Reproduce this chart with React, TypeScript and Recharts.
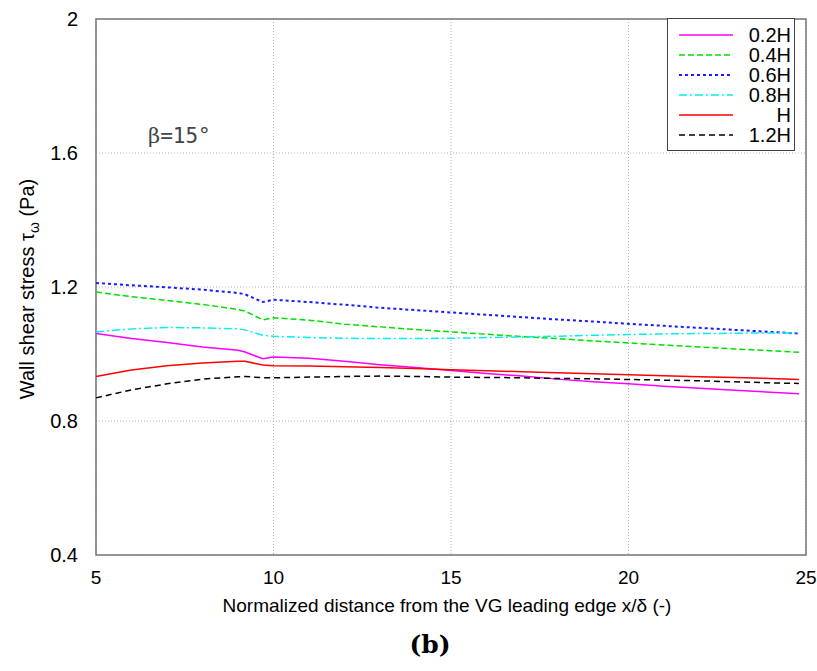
import { CartesianGrid, Line, LineChart, ReferenceArea, XAxis, YAxis } from "recharts";

const X_POS = [5, 6, 7, 8, 9, 9.2, 9.7, 10, 11, 12, 13, 14, 15, 16, 17, 18, 19, 20, 21, 22, 23, 24, 24.8];

const H02 = [1.061, 1.046, 1.034, 1.021, 1.011, 1.006, 0.986, 0.991, 0.987, 0.978, 0.968, 0.96, 0.951, 0.942, 0.934, 0.925, 0.917, 0.911, 0.904, 0.898, 0.892, 0.886, 0.881];
const H04 = [1.185, 1.171, 1.16, 1.148, 1.133, 1.128, 1.102, 1.108, 1.101, 1.089, 1.081, 1.073, 1.066, 1.059, 1.052, 1.046, 1.039, 1.033, 1.027, 1.021, 1.015, 1.01, 1.005];
const H06 = [1.212, 1.205, 1.199, 1.192, 1.182, 1.178, 1.155, 1.162, 1.155, 1.147, 1.138, 1.131, 1.124, 1.117, 1.11, 1.103, 1.097, 1.09, 1.084, 1.078, 1.072, 1.066, 1.061];
const H08 = [1.066, 1.075, 1.079, 1.078, 1.075, 1.072, 1.056, 1.053, 1.049, 1.047, 1.046, 1.046, 1.047, 1.049, 1.051, 1.053, 1.056, 1.058, 1.06, 1.061, 1.062, 1.063, 1.063];
const H10 = [0.933, 0.952, 0.965, 0.973, 0.978, 0.978, 0.967, 0.965, 0.964, 0.962, 0.96, 0.957, 0.953, 0.95, 0.947, 0.944, 0.941, 0.938, 0.935, 0.932, 0.93, 0.927, 0.924];
const H12 = [0.869, 0.893, 0.911, 0.925, 0.932, 0.933, 0.929, 0.929, 0.931, 0.933, 0.934, 0.933, 0.931, 0.93, 0.929, 0.927, 0.926, 0.924, 0.922, 0.92, 0.917, 0.914, 0.912];

const X_TICKS = [5, 10, 15, 20, 25];
const Y_TICKS = [0.4, 0.8, 1.2, 1.6, 2];

const SERIES = [
  { key: "h02", name: "0.2H", values: H02, color: "#ff00ff", dash: undefined, width: 1.5 },
  { key: "h04", name: "0.4H", values: H04, color: "#00e000", dash: "6 3", width: 1.5 },
  { key: "h06", name: "0.6H", values: H06, color: "#1a1aff", dash: "3 3", width: 2 },
  { key: "h08", name: "0.8H", values: H08, color: "#00f0f0", dash: "8 3 2 3", width: 1.5 },
  { key: "h10", name: "H", values: H10, color: "#ff0000", dash: undefined, width: 1.5 },
  { key: "h12", name: "1.2H", values: H12, color: "#000000", dash: "6 4", width: 1.5 },
];

const data = X_POS.map((x, i) => {
  const row: Record<string, number> = { x };
  SERIES.forEach((s) => (row[s.key] = s.values[i]));
  return row;
});

const SANS = "'Liberation Sans', Arial, sans-serif";

function LegendBox() {
  return (
    <div style={{ position: "absolute", left: 667, top: 18, border: "1px solid #444", background: "#fff", width: 126, padding: "6px 0 5px 0", fontFamily: SANS, fontSize: 20 }}>
      {SERIES.map((s) => (
        <div key={s.key} style={{ display: "flex", alignItems: "center", height: 20 }}>
          <svg width={70} height={20} style={{ flex: "none" }}>
            <line x1={11} x2={65} y1={10} y2={10} stroke={s.color} strokeWidth={s.width} strokeDasharray={s.dash} />
          </svg>
          <span style={{ flex: 1, textAlign: "right", paddingRight: 3, lineHeight: "20px" }}>{s.name}</span>
        </div>
      ))}
    </div>
  );
}

function YTitle({ viewBox }: any) {
  const x = 34;
  const y = viewBox.y + viewBox.height / 2 + 2;
  return (
    <text x={x} y={y} transform={`rotate(-90, ${x}, ${y})`} textAnchor="middle" fontFamily={SANS} fontSize={20} fill="#000">
      Wall shear stress  τ<tspan dy={5} fontSize={14}>ω</tspan><tspan dy={-5}> (Pa)</tspan>
    </text>
  );
}

function XTitle({ viewBox }: any) {
  return (
    <text x={viewBox.x + viewBox.width / 2 - 4} y={viewBox.y + 57} textAnchor="middle" fontFamily={SANS} fontSize={19} fill="#000">
      Normalized distance from the VG leading edge x/δ (-)
    </text>
  );
}

export default function App() {
  return (
    <div style={{ position: "absolute", left: 0, top: 0, width: 817, height: 671, background: "#fff" }}>
      <LineChart width={817} height={671} data={data} margin={{ top: 19, right: 11, bottom: 86, left: 0 }}>
        <CartesianGrid stroke="#b0b0b0" strokeDasharray="1 2" />
        <XAxis
          dataKey="x"
          type="number"
          domain={[5, 25]}
          ticks={X_TICKS}
          height={30}
          axisLine={false}
          tickLine={false}
          tickMargin={10}
          tick={{ fontFamily: SANS, fontSize: 19, fill: "#000" }}
          label={{ content: XTitle }}
        />
        <YAxis
          type="number"
          domain={[0.4, 2]}
          ticks={Y_TICKS}
          width={96}
          axisLine={false}
          tickLine={false}
          tickMargin={12}
          tick={{ fontFamily: SANS, fontSize: 20, fill: "#000" }}
          label={{ content: YTitle }}
        />
        <ReferenceArea x1={5} x2={25} y1={0.4} y2={2} fill="none" stroke="#777" strokeWidth={1.5} />
        {SERIES.map((s) => (
          <Line
            key={s.key}
            dataKey={s.key}
            name={s.name}
            type="linear"
            stroke={s.color}
            strokeWidth={s.width}
            strokeDasharray={s.dash}
            dot={false}
            activeDot={false}
            isAnimationActive={false}
          />
        ))}
      </LineChart>
      <LegendBox />
      <div style={{ position: "absolute", left: 148, top: 124, fontSize: 21, color: "#444", whiteSpace: "nowrap" }}>
        <span style={{ fontFamily: "'DejaVu Serif', serif" }}>β</span>
        <span style={{ fontFamily: "'DejaVu Sans Mono', monospace" }}>=15°</span>
      </div>
      <div style={{ position: "absolute", left: 380, width: 100, top: 630, textAlign: "center", fontFamily: "'DejaVu Serif', serif", fontWeight: "bold", fontSize: 25 }}>
        (b)
      </div>
    </div>
  );
}
